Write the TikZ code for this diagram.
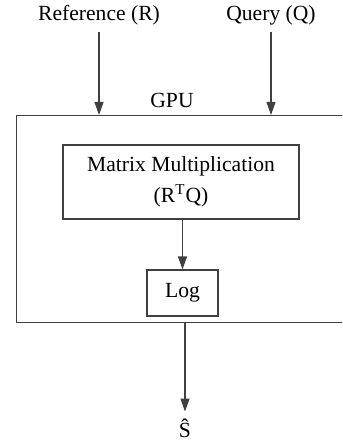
\documentclass[tikz,border=0pt]{standalone}
\usepackage{fontspec}
\setmainfont{Liberation Serif}
\usetikzlibrary{arrows.meta}
\tikzset{
  box/.style={draw=black!75, line width=0.6pt, inner sep=0pt},
  flow/.style={draw=black!75, line width=0.6pt, -{Triangle[length=6.5pt,width=4.5pt]}}
}
\begin{document}
\begin{tikzpicture}[x=0.5pt, y=-0.5pt, font=\fontsize{10.8}{15.5}\selectfont]
         \clip (0,0) rectangle (342,448);
         \node (ref) at (99,15) {Reference (R)};
         \node (qry) at (271,15) {Query (Q)};

         \node (gpu) [box, anchor=north west, minimum width=172.25pt, minimum height=103.5pt] at (15.5,115) {};
         \node (gpulbl) at (172,100) {GPU};

         \node (mm) [box, minimum width=118pt, minimum height=37pt, align=center] at (181,182) {Matrix Multiplication\\ (R\textsuperscript{T}Q)};
         \node (log) [box, minimum width=35.5pt, minimum height=23pt] at (182.5,293) {Log};
         \node (shat) at (185,428) {\^{S}};

         \draw[flow] (ref.south) -- (ref.south |- gpu.north);
         \draw[flow] (qry.south) -- (qry.south |- gpu.north);
         \draw[flow] (mm.south -| log.north) -- (log.north);
         \draw[flow] (shat |- gpu.south) -- (shat.north);
         \end{tikzpicture}
\end{document}
